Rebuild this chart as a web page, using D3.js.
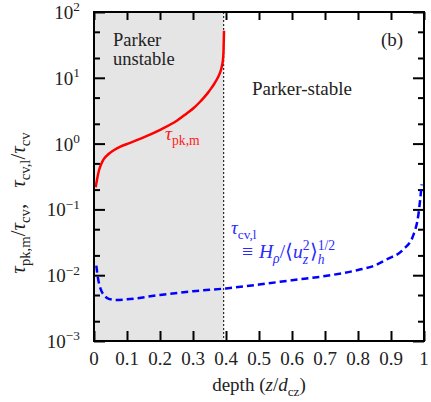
<!DOCTYPE html>
<html>
<head>
<meta charset="utf-8">
<script src="https://cdn.jsdelivr.net/npm/d3@7"></script>
<style>
body { margin: 0; background: #fff; }
</style>
</head>
<body>
<div class="container"></div>
<script>
const width = 431;
const height = 402;
const margin = { top: 12, right: 7, bottom: 61, left: 94 };
const serif = 'Liberation Serif';

// boundary between Parker-unstable and Parker-stable region
const boundary = 0.393;

// tau_pk,m / tau_cv (red, solid)
const pkDepth = [0.005, 0.015, 0.022, 0.03, 0.045, 0.061, 0.08, 0.101, 0.152, 0.202, 0.252, 0.28, 0.303, 0.32, 0.333, 0.345, 0.355, 0.365, 0.375, 0.382, 0.387, 0.391, 0.3925, 0.394];
const pkValue = [0.217, 0.39, 0.49, 0.585, 0.70, 0.80, 0.90, 0.99, 1.25, 1.63, 2.24, 2.85, 3.5, 4.25, 5.0, 5.9, 6.9, 8.2, 10.0, 12.0, 14.6, 19.2, 25.3, 52];

// tau_cv,l / tau_cv (blue, dashed)
const cvDepth = [0.007, 0.012, 0.02, 0.03, 0.04, 0.065, 0.1, 0.2, 0.3, 0.4, 0.5, 0.6, 0.7, 0.8, 0.85, 0.887, 0.937, 0.968, 0.983, 0.993];
const cvValue = [0.014, 0.0091, 0.0062, 0.0050, 0.0045, 0.0042, 0.0043, 0.0050, 0.0057, 0.0063, 0.0072, 0.0084, 0.0097, 0.0120, 0.0140, 0.0174, 0.0245, 0.041, 0.083, 0.24];

const xTicks = [0, 0.1, 0.2, 0.3, 0.4, 0.5, 0.6, 0.7, 0.8, 0.9, 1];
const yExps = [-3, -2, -1, 0, 1, 2];

const svg = d3.select('.container')
    .append('svg')
    .attr('width', width)
    .attr('height', height);

const w = width - margin.left - margin.right;
const h = height - margin.top - margin.bottom;

const G = svg.append('g')
    .attr('transform', 'translate(' + margin.left + ',' + margin.top + ')');

const x = d3.scaleLinear().domain([0, 1]).range([0, w]);
const y = d3.scaleLog().domain([1e-3, 1e2]).range([h, 0]);

// shaded unstable region
G.append('rect')
    .attr('x', 0).attr('y', 0)
    .attr('width', x(boundary)).attr('height', h)
    .style('fill', '#e5e5e5');

G.append('line')
    .attr('x1', x(boundary)).attr('x2', x(boundary))
    .attr('y1', 0).attr('y2', h)
    .style('stroke', '#000')
    .style('stroke-width', 1)
    .style('stroke-dasharray', '2,2');

// ticks (inward, on all sides)
const majorY = yExps.map(e => Math.pow(10, e));
const minorY = [];
yExps.slice(0, -1).forEach(e => { minorY.push(2 * Math.pow(10, e)); minorY.push(5 * Math.pow(10, e)); });

const tickStyle = sel => sel.style('stroke', '#000').style('stroke-width', 2);

G.append('g').call(d3.axisBottom(x).tickValues(xTicks).tickSize(-10).tickFormat(''))
    .attr('transform', 'translate(0,' + h + ')')
    .call(g => g.select('.domain').remove())
    .selectAll('line').call(tickStyle);
G.append('g').call(d3.axisTop(x).tickValues(xTicks).tickSize(-8).tickFormat(''))
    .call(g => g.select('.domain').remove())
    .selectAll('line').call(tickStyle);

[[d3.axisLeft, 0], [d3.axisRight, w]].forEach(([ax, tx]) => {
    G.append('g').call(ax(y).tickValues(majorY).tickSize(-11).tickFormat(''))
        .attr('transform', 'translate(' + tx + ',0)')
        .call(g => g.select('.domain').remove())
        .selectAll('line').call(tickStyle);
    G.append('g').call(ax(y).tickValues(minorY).tickSize(-6).tickFormat(''))
        .attr('transform', 'translate(' + tx + ',0)')
        .call(g => g.select('.domain').remove())
        .selectAll('line').call(tickStyle);
});

// curves
const pkData = pkDepth.map((d, i) => [d, pkValue[i]]);
const cvData = cvDepth.map((d, i) => [d, cvValue[i]]);

const line = d3.line()
    .x(d => x(d[0]))
    .y(d => y(d[1]))
    .curve(d3.curveMonotoneX);

G.append('path')
    .datum(pkData)
    .attr('d', line)
    .style('fill', 'none')
    .style('stroke', '#ff0000')
    .style('stroke-width', 2.5);

G.append('path')
    .datum(cvData)
    .attr('d', line)
    .style('fill', 'none')
    .style('stroke', '#0000ff')
    .style('stroke-width', 2.5)
    .style('stroke-dasharray', '7,4');

// frame
G.append('rect')
    .attr('width', w).attr('height', h)
    .style('fill', 'none')
    .style('stroke', '#000')
    .style('stroke-width', 2);

// tick labels
G.selectAll('.xlab')
    .data(xTicks)
    .join('text')
    .attr('class', 'xlab')
    .attr('x', d => x(d))
    .attr('y', h + 24)
    .attr('text-anchor', 'middle')
    .attr('font-family', serif)
    .attr('font-size', 19)
    .attr('fill', '#222')
    .text(d => d === 0 || d === 1 ? d : d.toFixed(1));

// little typesetter: parts laid out left to right, measured as they go
// part = {t, s (size), i (italic), dy, gap} or {sup, sub} stacked
function rich(parent, parts, base, color) {
    const g = parent.append('g');
    let cx = 0;
    const put = (t, s, it, dy) => {
        const el = g.append('text')
            .attr('x', cx).attr('y', dy || 0)
            .attr('font-family', serif)
            .attr('font-size', s)
            .attr('font-style', it ? 'italic' : 'normal')
            .attr('fill', color || '#222')
            .text(t);
        return el.node().getComputedTextLength();
    };
    parts.forEach(p => {
        if (p.gap !== undefined) {
            cx += p.gap;
        } else if (p.sup !== undefined) {
            const a = put(p.sup.t, p.sup.s || base * 0.7, p.sup.i, -base * 0.42);
            const b = put(p.sub.t, p.sub.s || base * 0.7, p.sub.i, base * 0.3);
            cx += Math.max(a, b);
        } else {
            cx += put(p.t, p.s || base, p.i, p.dy);
        }
    });
    return { g: g, w: cx };
}

const sub = (t, base, it) => ({ t: t, s: base * 0.7, i: it, dy: base * 0.25 });
const sup = (t, base) => ({ t: t, s: base * 0.7, dy: -base * 0.4 });

yExps.forEach(e => {
    const r = rich(G, [{ t: '10' }, sup(e < 0 ? '\u2212' + (-e) : String(e), 19)], 19);
    r.g.attr('transform', 'translate(' + (-14 - r.w) + ',' + (y(Math.pow(10, e)) + 7) + ')');
});

// axis titles
const xt = rich(svg, [{ t: 'depth (' }, { t: 'z', i: true }, { t: '/' }, { t: 'd', i: true }, sub('cz', 19), { t: ')' }], 19);
xt.g.attr('transform', 'translate(' + (margin.left + w / 2 - xt.w / 2) + ',391)');

const yt = rich(svg, [
    { t: '\u03c4', i: true }, sub('pk,m', 21), { t: '/' }, { t: '\u03c4', i: true }, sub('cv', 21), { t: ',' },
    { gap: 16 },
    { t: '\u03c4', i: true }, sub('cv,l', 21), { t: '/' }, { t: '\u03c4', i: true }, sub('cv', 21)
], 21);
yt.g.attr('transform', 'translate(25,' + (203 + yt.w / 2) + ') rotate(-90)');

// annotations
const annot = (tx, ty, str) => svg.append('text')
    .attr('x', tx).attr('y', ty)
    .attr('font-family', serif)
    .attr('font-size', 19)
    .attr('fill', '#222')
    .text(str);

annot(113, 46, 'Parker').attr('font-size', 18.5);
annot(113, 65, 'unstable').attr('font-size', 18.5);
annot(252, 95, 'Parker-stable');
annot(381, 46, '(b)');

const red = rich(svg, [{ t: '\u03c4', i: true }, sub('pk,m', 19.5)], 19.5, '#ff2020');
red.g.attr('transform', 'translate(165,140)');

const b1 = rich(svg, [{ t: '\u03c4', i: true }, sub('cv,l', 19)], 19, '#2a2aff');
b1.g.attr('transform', 'translate(231,234)');

const b2 = rich(svg, [
    { t: '\u2261' }, { gap: 6 }, { t: 'H', i: true }, sub('\u03c1', 19.5, true), { t: '/\u27e8' }, { t: 'u', i: true },
    { sup: { t: '2' }, sub: { t: 'z', i: true } }, { t: '\u27e9' },
    { sup: { t: '1/2' }, sub: { t: 'h', i: true } }
], 19.5, '#2a2aff');
b2.g.attr('transform', 'translate(242,258)');
</script>
</body>
</html>
